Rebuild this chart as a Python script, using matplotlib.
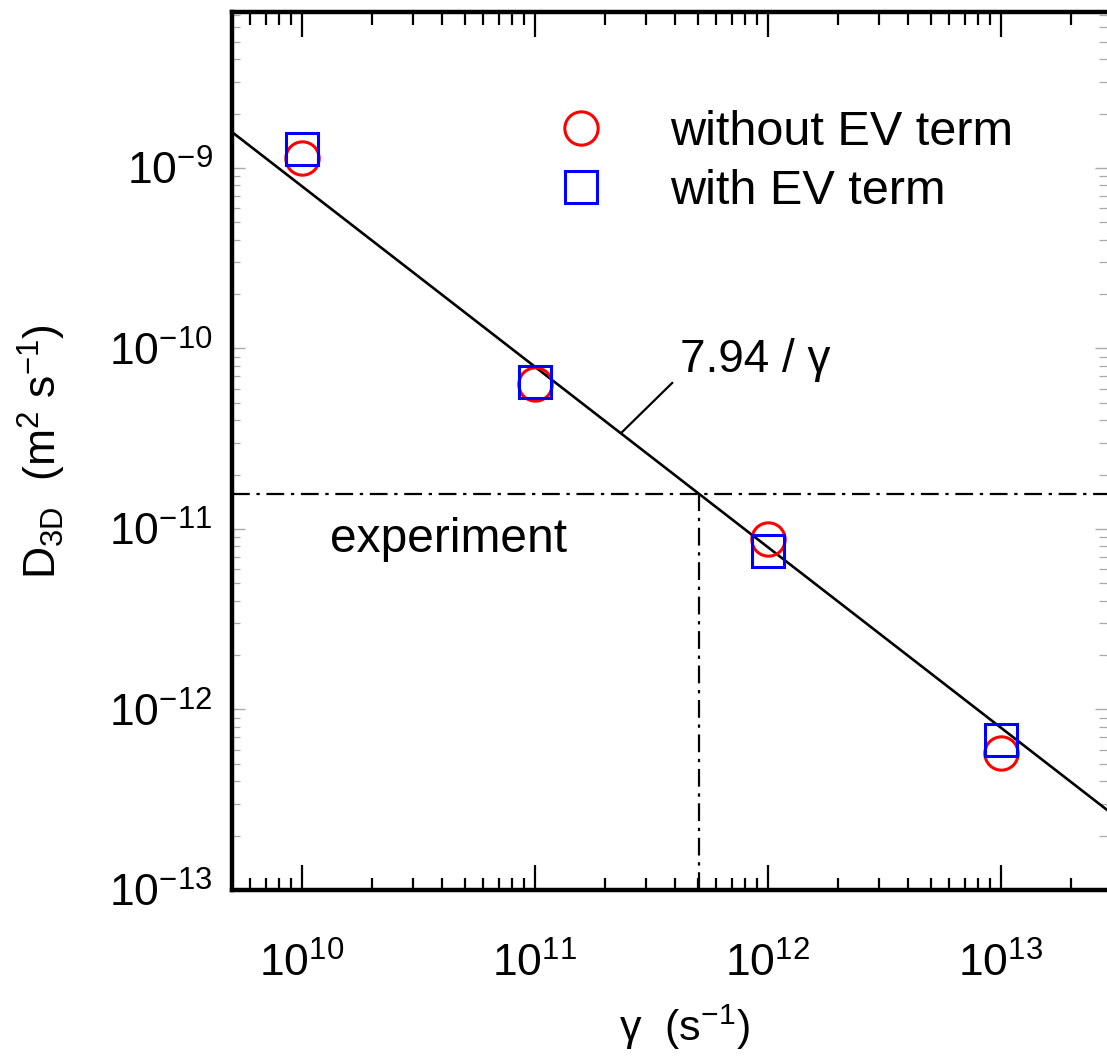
import numpy as np
import matplotlib
matplotlib.use("Agg")
import matplotlib.pyplot as plt
from matplotlib.ticker import LogLocator, FixedLocator, FixedFormatter, NullFormatter

plt.rcParams['font.family'] = ['Liberation Sans', 'DejaVu Sans']
plt.rcParams['mathtext.fontset'] = 'custom'
plt.rcParams['mathtext.rm'] = 'Liberation Sans'
plt.rcParams['mathtext.it'] = 'Liberation Sans:italic'
plt.rcParams['mathtext.bf'] = 'Liberation Sans:bold'
plt.rcParams['mathtext.default'] = 'regular'

# data
gamma = [1e10, 1e11, 1e12, 1e13]
d_without_ev = [1.13e-9, 6.37e-11, 8.85e-12, 5.73e-13]
d_with_ev = [1.27e-9, 6.5e-11, 7.52e-12, 6.81e-13]
fit_coef = 7.94
d_experiment = 1.56e-11
x_ticks = [1e10, 1e11, 1e12, 1e13]
x_ticklabels = ['$10^{10}$', '$10^{11}$', '$10^{12}$', '$10^{13}$']
y_ticks = [1e-13, 1e-12, 1e-11, 1e-10, 1e-9]
y_ticklabels = ['$10^{-13}$', '$10^{-12}$', '$10^{-11}$', '$10^{-10}$', '$10^{-9}$']

W, H = 1107, 1059
fig = plt.figure(figsize=(W / 100, H / 100), dpi=100)
ax = fig.add_axes([232 / W, 1 - 890 / H, (1107 - 232) / W, (890 - 12) / H])

xmin, xmax = 10 ** 9.701, 10 ** 13.456
ymin, ymax = 1e-13, 10 ** -8.136

# fit line
xl = np.logspace(np.log10(xmin), np.log10(xmax), 200)
ax.plot(xl, fit_coef / xl, color='black', lw=1.9, zorder=2)

# experiment lines
g_exp = fit_coef / d_experiment
ax.plot([xmin, xmax], [d_experiment, d_experiment], color='black', lw=1.6,
        dashes=(8, 3, 1.5, 3), zorder=2)
ax.plot([g_exp, g_exp], [ymin, d_experiment], color='black', lw=1.6,
        dashes=(8, 3, 1.5, 3), zorder=2)

# data points
ax.plot(gamma, d_without_ev, ls='none', marker='o', ms=24, mfc='none', mec='red',
        mew=2.2, label='without EV term', zorder=3)
ax.plot(gamma, d_with_ev, ls='none', marker='s', ms=22.5, mfc='none', mec='blue',
        mew=2.2, label='with EV term', zorder=4)

ax.set_xscale('log')
ax.set_yscale('log')
ax.set_xlim(xmin, xmax)
ax.set_ylim(ymin, ymax)

ax.xaxis.set_major_locator(FixedLocator(x_ticks))
ax.xaxis.set_major_formatter(FixedFormatter(x_ticklabels))
ax.xaxis.set_minor_locator(LogLocator(base=10, subs=np.arange(2, 10)))
ax.xaxis.set_minor_formatter(NullFormatter())
ax.yaxis.set_major_locator(FixedLocator(y_ticks))
ax.yaxis.set_major_formatter(FixedFormatter(y_ticklabels))
ax.yaxis.set_minor_locator(LogLocator(base=10, subs=np.arange(2, 10), numticks=20))
ax.yaxis.set_minor_formatter(NullFormatter())

ax.tick_params(axis='x', which='major', direction='in', length=18, width=1.6,
               top=True, bottom=True, labelsize=32, pad=38, color='black')
ax.tick_params(axis='x', which='minor', direction='in', length=9, width=1.6,
               top=True, bottom=True, color='black')
ax.tick_params(axis='y', which='major', direction='in', length=9, width=1.0,
               left=True, right=True, labelsize=32, pad=14, color='#aaaaaa')
ax.tick_params(axis='y', which='minor', direction='in', length=6, width=0.9,
               left=True, right=True, color='#aaaaaa')

for s in ['left', 'top', 'bottom']:
    ax.spines[s].set_linewidth(3.2)
ax.spines['right'].set_visible(False)

ax.set_xlabel('γ  (s$^{-1}$)', fontsize=31)
ax.set_ylabel('D$_{3D}$  (m$^{2}$ s$^{-1}$)', fontsize=32)
ax.xaxis.set_label_coords((684 - 232) / (1107 - 232), -(1027 - 890) / (890 - 12))
ax.yaxis.set_label_coords(-(232 - 42) / (1107 - 232), (890 - 452) / (890 - 12))
ax.xaxis.label.set_va('center')
ax.yaxis.label.set_va('center')

# annotations
ax.text(1.32e10, 8.7e-12, 'experiment', fontsize=34.5, va='center', ha='left')
ax.plot([2.37e11, 3.89e11], [3.44e-11, 6.44e-11], color='black', lw=1.6)
ax.text(4.2e11, 8.6e-11, '7.94 / γ', fontsize=33, va='center', ha='left')

leg = ax.legend(loc='upper left', bbox_to_anchor=(557 / W, 1 - 110 / H),
                bbox_transform=fig.transFigure, frameon=False, fontsize=35,
                numpoints=1, handlelength=0.97, handletextpad=1.35,
                labelspacing=0.28, borderpad=0, borderaxespad=0)

fig.savefig('out.png', dpi=100)
